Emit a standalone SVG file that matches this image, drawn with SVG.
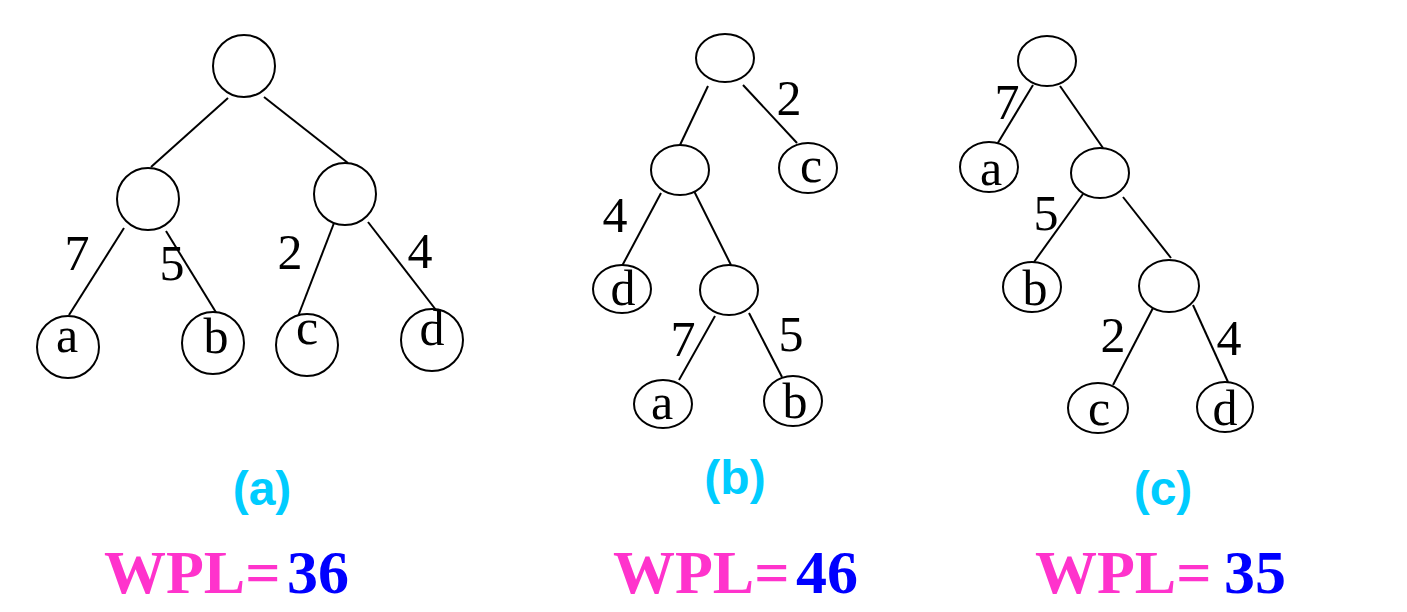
<svg xmlns="http://www.w3.org/2000/svg" width="1407" height="612" viewBox="0 0 1407 612">
<style>
.n{fill:#fff;stroke:#000;stroke-width:2}
.e{stroke:#000;stroke-width:2;fill:none}
.t{font-family:"Liberation Serif","Times New Roman",serif;font-size:50px;fill:#000;text-anchor:middle}
.w{font-family:"Liberation Serif","Times New Roman",serif;font-size:62px;font-weight:bold}
.cap{font-family:"Liberation Sans",Arial,sans-serif;font-size:48px;font-weight:bold;fill:#00CCFF;text-anchor:middle}
</style>
<rect width="1407" height="612" fill="#fff"/>
<g id="connectors">
<line class="e" x1="228" y1="98" x2="151" y2="167"/>
<line class="e" x1="264" y1="97" x2="348" y2="163"/>
<line class="e" x1="124" y1="228" x2="69" y2="315"/>
<line class="e" x1="166" y1="231" x2="217" y2="314"/>
<line class="e" x1="334" y1="223" x2="297" y2="319"/>
<line class="e" x1="368" y1="222" x2="436" y2="310"/>
<line class="e" x1="708" y1="86" x2="680" y2="145"/>
<line class="e" x1="743" y1="85" x2="797" y2="143"/>
<line class="e" x1="661" y1="193" x2="622" y2="266"/>
<line class="e" x1="693" y1="189" x2="731" y2="265"/>
<line class="e" x1="715" y1="316" x2="679" y2="380"/>
<line class="e" x1="749" y1="313" x2="782" y2="377"/>
<line class="e" x1="1033" y1="85" x2="996" y2="146"/>
<line class="e" x1="1060" y1="86" x2="1103" y2="148"/>
<line class="e" x1="1083" y1="194" x2="1034" y2="262"/>
<line class="e" x1="1123" y1="197" x2="1171" y2="258"/>
<line class="e" x1="1153" y1="308" x2="1113" y2="385"/>
<line class="e" x1="1193" y1="305" x2="1228" y2="382"/>
</g>
<g id="edge-labels" class="t">
<text x="77" y="270">7</text>
<text x="172" y="280">5</text>
<text x="290" y="269">2</text>
<text x="420" y="268">4</text>
<text x="789" y="115">2</text>
<text x="615" y="232">4</text>
<text x="683" y="356">7</text>
<text x="791" y="351">5</text>
<text x="1007" y="119">7</text>
<text x="1046" y="230">5</text>
<text x="1113" y="352">2</text>
<text x="1229" y="355">4</text>
</g>
<g id="a-root"><circle class="n" cx="244" cy="66" r="31"/></g>
<g id="a-left"><circle class="n" cx="148" cy="199" r="31"/></g>
<g id="a-right"><circle class="n" cx="345" cy="194" r="31"/></g>
<g id="a-a"><circle class="n" cx="68" cy="347" r="31"/><text class="t" x="67" y="352">a</text></g>
<g id="a-b"><circle class="n" cx="213" cy="343" r="31"/><text class="t" x="216" y="353">b</text></g>
<g id="a-c"><circle class="n" cx="307" cy="345" r="31"/><text class="t" x="307" y="344">c</text></g>
<g id="a-d"><circle class="n" cx="432" cy="340" r="31"/><text class="t" x="432" y="345">d</text></g>
<g id="b-root"><ellipse class="n" cx="725" cy="58" rx="29" ry="24"/></g>
<g id="b-left"><ellipse class="n" cx="680" cy="170" rx="29" ry="25"/></g>
<g id="b-c"><ellipse class="n" cx="808" cy="168" rx="29" ry="25"/><text class="t" x="811" y="182">c</text></g>
<g id="b-d"><ellipse class="n" cx="622" cy="289" rx="29" ry="24"/><text class="t" x="623" y="305">d</text></g>
<g id="b-mid"><ellipse class="n" cx="729" cy="290" rx="29" ry="25"/></g>
<g id="b-a"><ellipse class="n" cx="663" cy="404" rx="29" ry="24"/><text class="t" x="662" y="419">a</text></g>
<g id="b-b"><ellipse class="n" cx="793" cy="401" rx="29" ry="25"/><text class="t" x="795" y="418">b</text></g>
<g id="c-root"><ellipse class="n" cx="1047" cy="61" rx="29" ry="25"/></g>
<g id="c-a"><ellipse class="n" cx="989" cy="167" rx="29" ry="25"/><text class="t" x="991" y="185">a</text></g>
<g id="c-n2"><ellipse class="n" cx="1100" cy="173" rx="29" ry="25"/></g>
<g id="c-b"><ellipse class="n" cx="1032" cy="287" rx="29" ry="25"/><text class="t" x="1035" y="305">b</text></g>
<g id="c-n3"><ellipse class="n" cx="1169" cy="286" rx="30" ry="26"/></g>
<g id="c-c"><ellipse class="n" cx="1098" cy="408" rx="30" ry="25"/><text class="t" x="1099" y="425">c</text></g>
<g id="c-d"><ellipse class="n" cx="1225" cy="407" rx="28" ry="25"/><text class="t" x="1225" y="425">d</text></g>
<g id="captions">
<text class="cap" x="262" y="505">(a)</text>
<text class="cap" x="735" y="494">(b)</text>
<text class="cap" x="1163" y="505">(c)</text>
</g>
<g id="wpl" class="w">
<text x="104" y="593"><tspan fill="#FF33CC">WPL=</tspan></text>
<text x="287" y="593" fill="#0000FF">36</text>
<text x="613" y="593"><tspan fill="#FF33CC">WPL=</tspan></text>
<text x="796" y="593" fill="#0000FF">46</text>
<text x="1035" y="593"><tspan fill="#FF33CC">WPL=</tspan></text>
<text x="1224" y="593" fill="#0000FF">35</text>
</g>
</svg>
